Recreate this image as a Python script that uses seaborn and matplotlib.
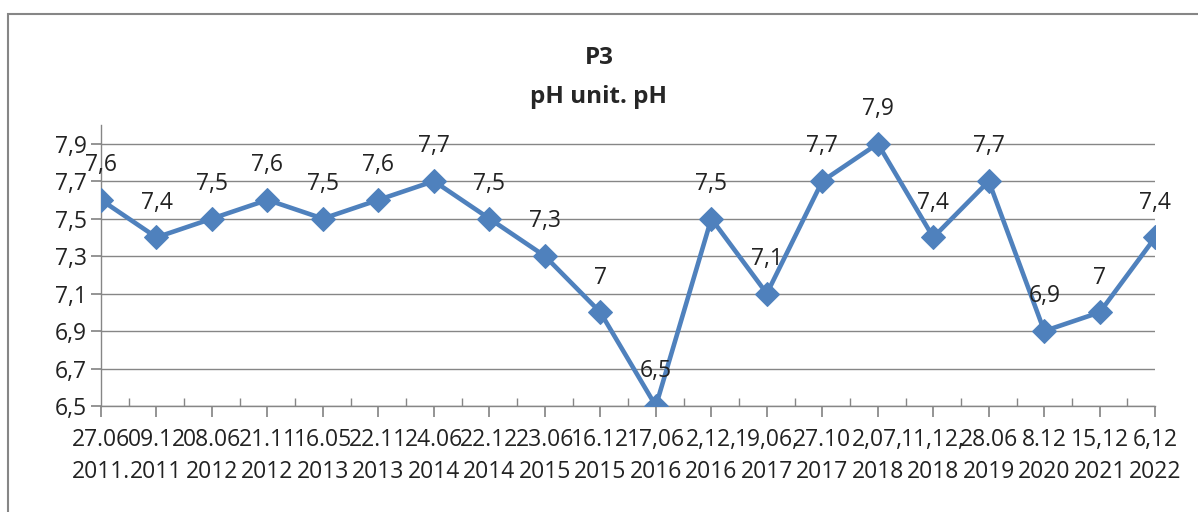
import matplotlib.pyplot as plt
from matplotlib.patches import Rectangle
from matplotlib.ticker import FixedLocator
import seaborn as sns
import pandas as pd

sns.set_theme(style="white")
plt.rcParams.update(
    {
        "font.family": ["Open Sans", "DejaVu Sans"],
        "font.size": 17,
        "axes.linewidth": 1,
    }
)

dates = [
    "27.06\n2011.", "09.12\n2011", "08.06\n2012", "21.11\n2012", "16.05\n2013",
    "22.11\n2013", "24.06\n2014", "22.12\n2014", "23.06\n2015", "16.12\n2015",
    "17,06\n2016", "2,12,\n2016", "19,06,\n2017", "27.10\n2017", "2,07,\n2018",
    "11,12,\n2018", "28.06\n2019", "8.12\n2020", "15,12\n2021", "6,12\n2022",
]
ph = [7.6, 7.4, 7.5, 7.6, 7.5, 7.6, 7.7, 7.5, 7.3, 7.0,
      6.5, 7.5, 7.1, 7.7, 7.9, 7.4, 7.7, 6.9, 7.0, 7.4]
y_ticks = [6.5, 6.7, 6.9, 7.1, 7.3, 7.5, 7.7, 7.9]

df = pd.DataFrame({"date": dates, "ph": ph})

blue = "#4F81BD"
grey = "#868686"
fs = 16.5

fig = plt.figure(figsize=(11.98, 5.12), dpi=100)
ax = fig.add_axes([0.0843, 0.207, 0.880, 0.549])

# outer chart frame
fig.patches.append(Rectangle((0.007, -0.1), 1.1, 1.072, transform=fig.transFigure,
                             fill=False, edgecolor=grey, linewidth=1.5))

sns.lineplot(data=df, x="date", y="ph", sort=False, color=blue, linewidth=3.3,
             marker="D", markersize=12.5, markeredgecolor=blue, ax=ax, zorder=3)

for i, v in enumerate(ph):
    txt = ("%g" % v).replace(".", ",")
    ax.annotate(txt, (i, v), xytext=(0, 25), textcoords="offset points",
                ha="center", va="center", fontsize=fs, color="#222222")

ax.set_xlim(0, len(dates) - 1)
ax.set_ylim(6.5, 8.0)
ax.set_yticks(y_ticks)
ax.set_yticklabels([("%.1f" % t).replace(".", ",") for t in y_ticks])
ax.yaxis.grid(True, color=grey, linewidth=1)
ax.set_axisbelow(True)
ax.xaxis.set_minor_locator(FixedLocator([i + 0.5 for i in range(len(dates) - 1)]))
ax.tick_params(axis="x", which="major", direction="out", length=8, color=grey,
               bottom=True, pad=8)
ax.tick_params(axis="x", which="minor", direction="in", length=6, color=grey,
               bottom=True)
ax.tick_params(axis="y", direction="out", length=7, color=grey, left=True, pad=3)
ax.tick_params(labelsize=fs, labelcolor="#222222")
for lbl in ax.get_xticklabels():
    lbl.set_linespacing(1.45)
ax.set_xlabel("")
ax.set_ylabel("")

for s in ["top", "right"]:
    ax.spines[s].set_visible(False)
for s in ["left", "bottom"]:
    ax.spines[s].set_color(grey)

fig.text(0.5, 0.887, "P3", ha="center", va="center", fontsize=17.5, fontweight="bold")
fig.text(0.5, 0.811, "pH unit. pH", ha="center", va="center", fontsize=17.5,
         fontweight="bold")

fig.savefig("out.png", dpi=100)
